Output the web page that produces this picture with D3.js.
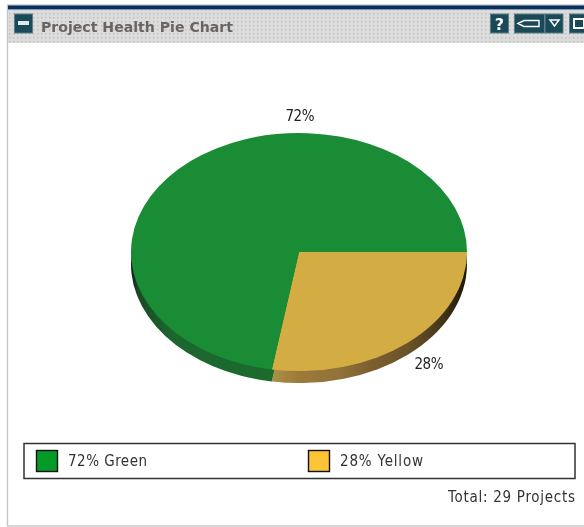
<!DOCTYPE html>
<html><head><meta charset="utf-8">
<script src="https://cdn.jsdelivr.net/npm/d3@7/dist/d3.min.js"></script>
<style>html,body{margin:0;padding:0;background:#fff;overflow:hidden}svg{display:block}</style>
</head><body><svg id="c" width="584" height="527"></svg>
<script>
const categories = ["Yellow", "Green"];
const projectCounts = [8, 21];
const pieLabels = ["28%", "72%"];
const sliceColors = ["#d3ad44", "#1a8c36"];
const legendLabels = ["72% Green", "28% Yellow"];
const legendColors = ["#049a28", "#fdc436"];
const yellowWallStops = [[0,"#ab9147"],[0.14,"#9c7a38"],[0.35,"#917238"],[0.5,"#7d6030"],[0.7,"#6b5228"],[0.85,"#4a3a1c"],[1,"#1c160a"]];
const greenWallStops = [[0,"#141a14"],[0.05,"#1a4a24"],[0.3,"#1c6630"],[1,"#1b6b2d"]];
const title = "Project Health Pie Chart";
const totalLabel = "Total: 29 Projects";

const svg = d3.select("#c");
const defs = svg.append("defs");
const font = "'Liberation Sans Narrow', 'DejaVu Sans Condensed', sans-serif";

const dots = defs.append("pattern").attr("id","dots").attr("width",4).attr("height",4).attr("patternUnits","userSpaceOnUse");
dots.append("rect").attr("width",4).attr("height",4).attr("fill","#dcdcdc");
dots.append("rect").attr("x",1).attr("y",1).attr("width",1.4).attr("height",1.4).attr("fill","#bdbdbd");
defs.append("filter").attr("id","soft").append("feGaussianBlur").attr("stdDeviation",0.35);

// panel
svg.append("rect").attr("x",7.5).attr("y",5).attr("width",590).attr("height",521).attr("fill","#fff").attr("stroke","#c8c5c5").attr("stroke-width",1.4);
svg.append("rect").attr("x",8).attr("y",5).attr("width",576).attr("height",1).attr("fill","#c9ced6");
svg.append("rect").attr("x",8).attr("y",5.5).attr("width",576).attr("height",4).attr("fill","#06315f");
svg.append("rect").attr("x",8).attr("y",10).attr("width",576).attr("height",33).attr("fill","url(#dots)");
const btn = (x,w) => svg.append("rect").attr("x",x).attr("y",14).attr("width",w).attr("height",19).attr("fill","#1a4a58").attr("stroke","#5d7f88").attr("stroke-width",1);
btn(14.5,18);
svg.append("rect").attr("x",18).attr("y",21).attr("width",11).attr("height",4).attr("fill","#dfe8ea");
svg.append("text").attr("x",41).attr("y",32).attr("font-family","'DejaVu Sans', sans-serif").attr("font-weight","bold").attr("font-size",14).attr("fill","#6b6560").attr("textLength",192).attr("lengthAdjust","spacingAndGlyphs").text(title);
btn(490.5,18);
svg.append("text").attr("x",499.5).attr("y",30).attr("text-anchor","middle").attr("font-family","'DejaVu Sans', sans-serif").attr("font-weight","bold").attr("font-size",16).attr("fill","#fff").text("?");
btn(514.5,30); btn(545,18); btn(569.5,20);
svg.append("path").attr("d","M518 23.5l6-3h15v6h-15z").attr("fill","#1a4a58").attr("stroke","#fff").attr("stroke-width",1.4);
svg.append("path").attr("d","M550 20h9l-4.500 6z").attr("fill","none").attr("stroke","#fff").attr("stroke-width",1.5);
svg.append("rect").attr("x",574).attr("y",19).attr("width",10).attr("height",9).attr("fill","none").attr("stroke","#fff").attr("stroke-width",2);

// pie
const cx = 299, cy = 252, rx = 168, ry = 119, depth = 12;
const ratio = ry / rx;
const pie = d3.pie().value(d => d.v).sort(null).startAngle(Math.PI/2).endAngle(Math.PI/2 + 2*Math.PI);
const rows = categories.map((c,i) => ({c, v: projectCounts[i], color: sliceColors[i], label: pieLabels[i]}));
const arcs = pie(rows);
const arc = d3.arc().innerRadius(0).outerRadius(rx);

const gradient = (id, stops, x1, x2) => {
  const g = defs.append("linearGradient").attr("id",id).attr("gradientUnits","userSpaceOnUse").attr("x1",x1).attr("x2",x2).attr("y1",0).attr("y2",0);
  stops.forEach(s => g.append("stop").attr("offset",s[0]).attr("stop-color",s[1]));
};
gradient("wallY", yellowWallStops, -28, rx);
gradient("wallG", greenWallStops, -rx, -28);

const wall = svg.append("g").attr("transform",`translate(${cx},${cy+depth}) scale(1,${ratio})`);
wall.selectAll("path").data(arcs).join("path").attr("d",arc).attr("fill",(d,i)=> i===0 ? "url(#wallY)" : "url(#wallG)");
const topFace = svg.append("g").attr("transform",`translate(${cx},${cy}) scale(1,${ratio})`);
topFace.selectAll("path").data(arcs).join("path").attr("d",arc).attr("fill",d=>d.data.color);
svg.append("g").selectAll("text").data(arcs).join("text")
  .attr("x",(d,i)=> i===0 ? 429 : 300).attr("y",(d,i)=> i===0 ? 369 : 121)
  .attr("text-anchor","middle").attr("font-family",font).attr("font-size",15).attr("fill","#222")
  .attr("textLength",29).attr("lengthAdjust","spacing").text(d=>d.data.label);

// legend
svg.append("rect").attr("x",24).attr("y",443.5).attr("width",551).attr("height",35).attr("fill","#fff").attr("stroke","#333").attr("stroke-width",1.5);
const lx = d3.scalePoint().domain(legendLabels).range([36,308]);
const lg = svg.selectAll("g.leg").data(legendLabels).join("g").attr("class","leg").attr("transform",d=>`translate(${lx(d)},450)`);
lg.append("rect").attr("x",0.5).attr("y",0.5).attr("width",21).attr("height",21).attr("fill",(d,i)=>legendColors[i]).attr("stroke","#111").attr("stroke-width",1.4);
lg.append("text").attr("x",32).attr("y",16).attr("font-family",font).attr("font-size",15).attr("fill","#333").attr("textLength",(d,i)=>i?83:79).attr("lengthAdjust","spacing").text(d=>d);
svg.append("text").attr("x",448).attr("y",502).attr("font-family",font).attr("font-size",15).attr("fill","#333").attr("textLength",127).attr("lengthAdjust","spacing").text(totalLabel);
svg.selectAll("text").attr("filter","url(#soft)");
</script></body></html>
